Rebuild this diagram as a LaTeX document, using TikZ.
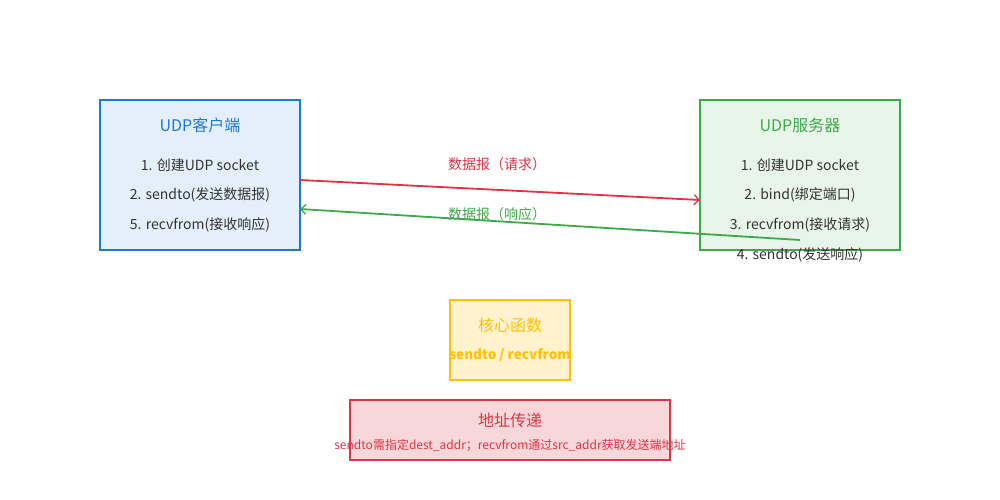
\documentclass[tikz,border=0pt]{standalone}
\usepackage{fontspec}
\setmainfont{Noto Sans CJK SC}
\usetikzlibrary{arrows.meta}
\definecolor{cblue}{HTML}{1E78D2}
\definecolor{cbluef}{HTML}{E3F0FB}
\definecolor{cgreen}{HTML}{3DAA4A}
\definecolor{cgreenf}{HTML}{E8F5E9}
\definecolor{cyel}{HTML}{FFC107}
\definecolor{cyelf}{HTML}{FFF2CC}
\definecolor{cred}{HTML}{DC3545}
\definecolor{credf}{HTML}{F8D7DA}
\definecolor{ctext}{HTML}{333333}
\tikzset{
  box/.style={draw, line width=1.5pt, inner sep=0pt},
  title/.style={font=\fontsize{16}{19}\selectfont, anchor=center, inner sep=0pt},
  item/.style={font=\fontsize{14}{17}\selectfont, text=ctext, anchor=center, inner sep=0pt},
  lbl/.style={font=\fontsize{14}{17}\selectfont, anchor=center, inner sep=0pt},
  arr/.style={line width=1.8pt, -{Straight Barb[length=5pt,width=10pt,line width=1.3pt]}},
}
\begin{document}
\begin{tikzpicture}[x=1pt,y=-1pt]
\useasboundingbox[fill=white] (0,0) rectangle (1000,500);
% client
\path[box, draw=cblue, fill=cbluef] (100,100) rectangle (300,250);
\node (client) at (200,175) [minimum width=200pt, minimum height=150pt, inner sep=0pt] {};
\node[title, text=cblue] (ct) at (200,125) {UDP客户端};
\node[item] (c1) at (200,165) {1. 创建UDP socket};
\node[item] (c2) at (200,195) {2. sendto(发送数据报)};
\node[item] (c3) at (200,225) {5. recvfrom(接收响应)};
% server
\path[box, draw=cgreen, fill=cgreenf] (700,100) rectangle (900,250);
\node (server) at (800,175) [minimum width=200pt, minimum height=150pt, inner sep=0pt] {};
\node[title, text=cgreen] (st) at (800,125) {UDP服务器};
\node[item] (s1) at (800,165) {1. 创建UDP socket};
\node[item] (s2) at (800,195) {2. bind(绑定端口)};
\node[item] (s3) at (800,225) {3. recvfrom(接收请求)};
\node[item] (s4) at (800,255) {4. sendto(发送响应)};
% arrows
\coordinate (a1s) at (300,180);
\coordinate (a1e) at (700,200);
\coordinate (a2s) at (800,240);
\coordinate (a2e) at (300,209);
\draw[arr, draw=cred] (a1s) -- (a1e);
\draw[arr, draw=cgreen] (a2s) -- (a2e);
\node[lbl, text=cred] (l1) at (497,164) {数据报（请求）};
\node[lbl, text=cgreen] (l2) at (497,214) {数据报（响应）};
% core
\path[box, draw=cyel, fill=cyelf] (450,300) rectangle (570,380);
\node[title, text=cyel] (kt) at (510,325) {核心函数};
\node[item, text=cyel, font=\fontsize{13.5}{16}\selectfont\bfseries] (k1) at (510,355) {sendto / recvfrom};
% address
\path[box, draw=cred, fill=credf] (350,400) rectangle (670,460);
\node[title, text=cred] (at) at (510,420) {地址传递};
\node[lbl, text=cred, font=\fontsize{12}{14}\selectfont] (a1) at (510,445) {sendto需指定dest\_addr；recvfrom通过src\_addr获取发送端地址};
\end{tikzpicture}
\end{document}
